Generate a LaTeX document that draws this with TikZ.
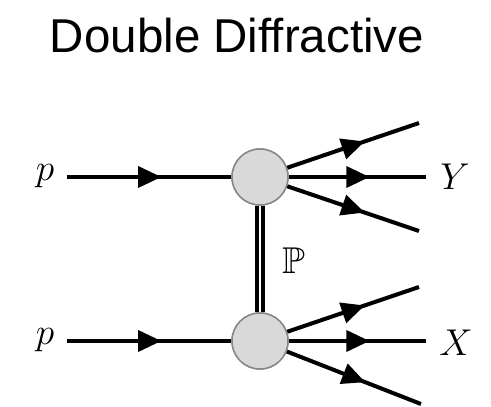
\documentclass[tikz,border=0pt]{standalone}
\usepackage{amssymb}
\usepackage{fontspec}
\newfontfamily\titlefont{Liberation Sans}
\usetikzlibrary{decorations.markings}

\definecolor{blobfill}{RGB}{217,217,217}
\definecolor{blobedge}{RGB}{136,136,136}

\tikzset{
  blob/.style={circle, draw=blobedge, line width=1.5pt, fill=blobfill,
               minimum size=56pt, inner sep=0pt},
  fermion/.style={line width=4pt, postaction={decorate},
    decoration={markings, mark=at position 0.5 with
      {\fill[black] (-11pt,-11pt) -- (12pt,0pt) -- (-11pt,11pt) -- cycle;}}},
  pomeron/.style={double, line width=3.8pt, double distance=2.6pt},
  lbl/.style={font=\Huge, scale=1.5, inner sep=0pt},
}

\begin{document}
\begin{tikzpicture}[x=1pt,y=-1pt]
  \useasboundingbox (0,0) rectangle (491,407);
  \clip (0,0) rectangle (491,407);

  % title
  \node[anchor=base, inner sep=0pt, font=\titlefont\fontsize{47.5}{57}\selectfont]
    (title) at (237,52) {Double Diffractive};

  % the two vertices
  \node[blob] (vt) at (260,177) {};
  \node[blob] (vb) at (260,341) {};

  % incoming protons
  \coordinate (pt) at (67,177);
  \coordinate (pb) at (67,341);
  \node[lbl, anchor=base] (lpt) at (45,180) {$p$};
  \node[lbl, anchor=base] (lpb) at (45,344) {$p$};
  \draw[fermion] (pt) -- (vt);
  \draw[fermion] (pb) -- (vb);

  % pomeron exchange
  \draw[pomeron] (vt) -- (vb);
  \node[lbl, anchor=base] (pom) at (294,273) {$\mathbb{P}$};

  % outgoing system Y
  \coordinate (y1) at (419,123);
  \coordinate (y2) at (426,177);
  \coordinate (y3) at (419,231);
  \draw[fermion] (vt) -- (y1);
  \draw[fermion] (vt) -- (y2);
  \draw[fermion] (vt) -- (y3);
  \node[lbl, anchor=base] (ly) at (455,189) {$Y$};

  % outgoing system X
  \coordinate (x1) at (419,287);
  \coordinate (x2) at (426,341);
  \coordinate (x3) at (421,404);
  \draw[fermion] (vb) -- (x1);
  \draw[fermion] (vb) -- (x2);
  \draw[fermion] (vb) -- (x3);
  \node[lbl, anchor=base] (lx) at (456,355) {$X$};

  % redraw vertices on top of the line ends
  \node[blob] at (vt) {};
  \node[blob] at (vb) {};
\end{tikzpicture}
\end{document}
